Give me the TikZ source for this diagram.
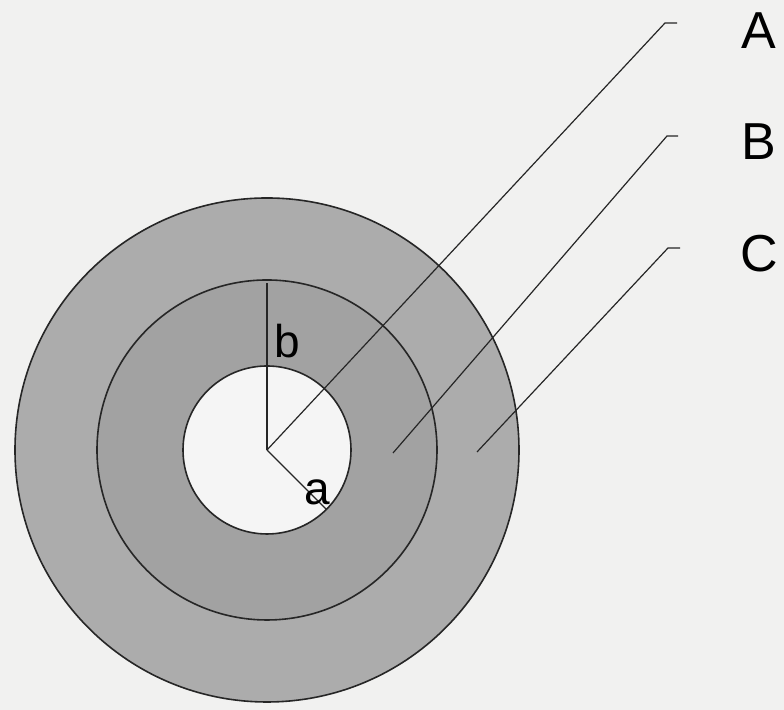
\documentclass[tikz,border=0pt]{standalone}
\usepackage{fontspec}
\setmainfont{Liberation Sans}
\usepackage{tikz}
\usetikzlibrary{positioning,calc}
\definecolor{paper}{RGB}{241,241,240}
\definecolor{outerring}{RGB}{172,172,172}
\definecolor{midring}{RGB}{162,162,162}
\definecolor{core}{RGB}{245,245,245}
\tikzset{
  rim/.style={draw=black!85,line width=0.8pt},
  leader/.style={draw=black!85,line width=0.6pt},
  bigletter/.style={font=\fontsize{26}{30}\selectfont},
  radletter/.style={font=\fontsize{23}{26}\selectfont,inner sep=0pt}
}
\begin{document}
\begin{tikzpicture}[x=0.5pt,y=0.5pt]
% paper
\fill[paper] (0,0) rectangle (784,710);
\useasboundingbox (0,0) rectangle (784,710);
\coordinate (O) at (267,260);
% three zones of the cross-section
\filldraw[rim,fill=outerring] (O) circle[radius=252];
\filldraw[rim,fill=midring] (O) circle[radius=170];
\filldraw[rim,fill=core] (O) circle[radius=84];
% radii a and b
\coordinate (bTop) at (267,427);
\coordinate (aEnd) at ($(O)+(-45:84)$);
\draw[leader] (O) -- (bTop);
\draw[leader] (O) -- (aEnd);
\node[radletter] (b) at (287,369) {b};
\node[radletter] (a) at (317,218) {a};
% leaders to the zone labels
\coordinate (aStart) at (O);
\coordinate (bStart) at (393,257);
\coordinate (cStart) at (477,258);
\coordinate (aBend) at (665,687);
\coordinate (bBend) at (667,574);
\coordinate (cBend) at (668,462);
\coordinate (aTip) at (677,687);
\coordinate (bTip) at (678,574);
\coordinate (cTip) at (680,462);
\draw[leader] (aStart) -- (aBend) -- (aTip);
\draw[leader] (bStart) -- (bBend) -- (bTip);
\draw[leader] (cStart) -- (cBend) -- (cTip);
\node[bigletter] (A) at (759,679) {A};
\node[bigletter] (B) at (759,568) {B};
\node[bigletter] (C) at (759,456) {C};
\end{tikzpicture}
\end{document}
